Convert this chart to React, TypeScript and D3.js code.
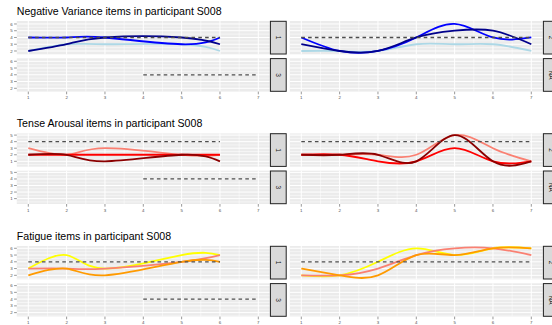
import * as d3 from "d3";

// Day positions recorded for each week (week 1 has no day-4 entry)
const week1Days = [1, 2, 3, 5, 6];
const week2Days = [1, 2, 3, 4, 5, 6, 7];
const xTicks = [1, 2, 3, 4, 5, 6, 7];

// Negative Variance items
const negLightW1 = [2, 3, 3, 3, 2];
const negBlueW1 = [4, 4, 4, 3, 4];
const negNavyW1 = [2, 3, 4, 4, 3];
const negLightW2 = [2, 2, 2, 3, 3, 3, 2];
const negBlueW2 = [4, 2, 2, 4, 6, 4, 4];
const negNavyW2 = [3, 2, 2, 4, 5, 5, 3];

// Tense Arousal items
const tenseSalmonW1 = [3, 2, 3, 2, 2];
const tenseRedW1 = [2, 2, 2, 2, 2];
const tenseDarkW1 = [2, 2, 1, 2, 1];
const tenseSalmonW2 = [2, 2, 2, 2, 5, 3, 1];
const tenseRedW2 = [2, 2, 1, 1, 3, 1, 1];
const tenseDarkW2 = [2, 2, 2, 1, 5, 1, 1];

// Fatigue items
const fatYellowW1 = [3, 5, 3, 5, 5];
const fatSalmonW1 = [3, 3, 3, 4, 5];
const fatOrangeW1 = [2, 3, 2, 4, 4];
const fatYellowW2 = [2, 2, 4, 6, 5, 6, 6];
const fatSalmonW2 = [2, 2, 3, 5, 6, 6, 5];
const fatOrangeW2 = [3, 2, 2, 5, 5, 6, 6];

// Reference level (dashed) and the day span it covers in each week panel
const refLevel = 4;
const refSpanW1 = [1, 6];
const refSpanW2 = [1, 7];
const refSpanW3 = [4, 7];

const stripLabels = ["1", "2", "3", "NA"];

type Series = { color: string; days: number[]; values: number[] };
type Section = {
  title: string;
  yDomain: [number, number];
  yTicks: number[];
  week1: Series[];
  week2: Series[];
};

const sections: Section[] = [
  {
    title: "Negative Variance items in participant S008",
    yDomain: [1.51, 6.44],
    yTicks: [2, 3, 4, 5, 6],
    week1: [
      { color: "#ADD8E6", days: week1Days, values: negLightW1 },
      { color: "#0000FF", days: week1Days, values: negBlueW1 },
      { color: "#00008B", days: week1Days, values: negNavyW1 },
    ],
    week2: [
      { color: "#ADD8E6", days: week2Days, values: negLightW2 },
      { color: "#0000FF", days: week2Days, values: negBlueW2 },
      { color: "#00008B", days: week2Days, values: negNavyW2 },
    ],
  },
  {
    title: "Tense Arousal items in participant S008",
    yDomain: [0.18, 5.26],
    yTicks: [1, 2, 3, 4, 5],
    week1: [
      { color: "#FA8072", days: week1Days, values: tenseSalmonW1 },
      { color: "#FF0000", days: week1Days, values: tenseRedW1 },
      { color: "#8B0000", days: week1Days, values: tenseDarkW1 },
    ],
    week2: [
      { color: "#FA8072", days: week2Days, values: tenseSalmonW2 },
      { color: "#FF0000", days: week2Days, values: tenseRedW2 },
      { color: "#8B0000", days: week2Days, values: tenseDarkW2 },
    ],
  },
  {
    title: "Fatigue items in participant S008",
    yDomain: [1.41, 6.34],
    yTicks: [2, 3, 4, 5, 6],
    week1: [
      { color: "#FFFF00", days: week1Days, values: fatYellowW1 },
      { color: "#FA8072", days: week1Days, values: fatSalmonW1 },
      { color: "#FF9A00", days: week1Days, values: fatOrangeW1 },
    ],
    week2: [
      { color: "#FFFF00", days: week2Days, values: fatYellowW2 },
      { color: "#FA8072", days: week2Days, values: fatSalmonW2 },
      { color: "#FF9A00", days: week2Days, values: fatOrangeW2 },
    ],
  },
];

const W = 552;
const H = 325;
const sectionTops = [21, 133.4, 246];
const panelH = 33.3;
const rowGap = 4;
const colX = [16.8, 289.8];
const panelW = 253;
const stripW = 15.8;
const FONT = "'Liberation Sans', Arial, Helvetica, sans-serif";

const xScale = (x0: number) =>
  d3.scaleLinear().domain([0.7, 7.3]).range([x0, x0 + panelW]);

function Panel({
  x0,
  y0,
  yDomain,
  series,
  refSpan,
  label,
  showY,
  yTicks,
  showX,
}: {
  x0: number;
  y0: number;
  yDomain: [number, number];
  series: Series[];
  refSpan: number[] | null;
  label: string;
  showY: boolean;
  yTicks: number[];
  showX: boolean;
}) {
  const x = xScale(x0);
  const y = d3.scaleLinear().domain(yDomain).range([y0 + panelH, y0]);
  const xMinor = d3.range(1.5, 7, 1);
  const yMinor = d3
    .range(Math.ceil(yDomain[0] * 2) / 2, yDomain[1], 0.5)
    .filter((v) => !Number.isInteger(v));
  const line = d3
    .line<[number, number]>()
    .x((d) => x(d[0]))
    .y((d) => y(d[1]))
    .curve(d3.curveNatural);
  return (
    <g>
      <rect x={x0} y={y0} width={panelW} height={panelH} fill="#EBEBEB" />
      {yMinor.map((v) => (
        <line key={"ym" + v} x1={x0} x2={x0 + panelW} y1={y(v)} y2={y(v)} stroke="#fff" strokeWidth={0.5} />
      ))}
      {xMinor.map((v) => (
        <line key={"xm" + v} x1={x(v)} x2={x(v)} y1={y0} y2={y0 + panelH} stroke="#fff" strokeWidth={0.5} />
      ))}
      {yTicks.map((v) => (
        <line key={"yM" + v} x1={x0} x2={x0 + panelW} y1={y(v)} y2={y(v)} stroke="#fff" strokeWidth={1} />
      ))}
      {xTicks.map((v) => (
        <line key={"xM" + v} x1={x(v)} x2={x(v)} y1={y0} y2={y0 + panelH} stroke="#fff" strokeWidth={1} />
      ))}
      {series.map((s, i) => (
        <path
          key={i}
          d={line(s.days.map((d, j) => [d, s.values[j]] as [number, number])) || ""}
          fill="none"
          stroke={s.color}
          strokeWidth={1.8}
        />
      ))}
      {refSpan && (
        <line
          x1={x(refSpan[0])}
          x2={x(refSpan[1])}
          y1={y(refLevel)}
          y2={y(refLevel)}
          stroke="#4D4D4D"
          strokeWidth={1.3}
          strokeDasharray="3.6,3.2"
        />
      )}
      <rect
        x={x0 + panelW + 0.6}
        y={y0 + 0.3}
        width={stripW}
        height={panelH - 0.6}
        fill="#D9D9D9"
        stroke="#222"
        strokeWidth={1}
      />
      <text
        transform={`translate(${x0 + panelW + 0.6 + stripW / 2},${y0 + panelH / 2}) rotate(90)`}
        textAnchor="middle"
        dy="0.35em"
        fontSize={6.5}
        fill="#1A1A1A"
        fontFamily={FONT}
      >
        {label}
      </text>
      {showY &&
        yTicks.map((v) => (
          <g key={"yt" + v}>
            <line x1={x0 - 2.7} x2={x0} y1={y(v)} y2={y(v)} stroke="#333" strokeWidth={0.5} />
            <text
              x={x0 - 4.2}
              y={y(v)}
              dy="0.35em"
              textAnchor="end"
              fontSize={4.4}
              fill="#4D4D4D"
              fontFamily={FONT}
            >
              {v}
            </text>
          </g>
        ))}
      {showX &&
        xTicks.map((v) => (
          <g key={"xt" + v}>
            <line x1={x(v)} x2={x(v)} y1={y0 + panelH} y2={y0 + panelH + 2.7} stroke="#333" strokeWidth={0.5} />
            <text
              x={x(v)}
              y={y0 + panelH + 4.2}
              dy="0.75em"
              textAnchor="middle"
              fontSize={4.4}
              fill="#4D4D4D"
              fontFamily={FONT}
            >
              {v}
            </text>
          </g>
        ))}
    </g>
  );
}

export default function App() {
  return (
    <svg
      width={W}
      height={H}
      style={{ position: "absolute", left: 0, top: 0, background: "#fff" }}
    >
      {sections.map((sec, si) => {
        const top = sectionTops[si];
        const row2 = top + panelH + rowGap;
        return (
          <g key={si}>
            <text x={16.8} y={top - 6.5} fontSize={10.6} fill="#000" fontFamily={FONT}>
              {sec.title}
            </text>
            <Panel x0={colX[0]} y0={top} yDomain={sec.yDomain} series={sec.week1} refSpan={refSpanW1}
              label={stripLabels[0]} showY yTicks={sec.yTicks} showX={false} />
            <Panel x0={colX[1]} y0={top} yDomain={sec.yDomain} series={sec.week2} refSpan={refSpanW2}
              label={stripLabels[1]} showY={false} yTicks={sec.yTicks} showX={false} />
            <Panel x0={colX[0]} y0={row2} yDomain={sec.yDomain} series={[]} refSpan={refSpanW3}
              label={stripLabels[2]} showY yTicks={sec.yTicks} showX />
            <Panel x0={colX[1]} y0={row2} yDomain={sec.yDomain} series={[]} refSpan={null}
              label={stripLabels[3]} showY={false} yTicks={sec.yTicks} showX />
          </g>
        );
      })}
    </svg>
  );
}
